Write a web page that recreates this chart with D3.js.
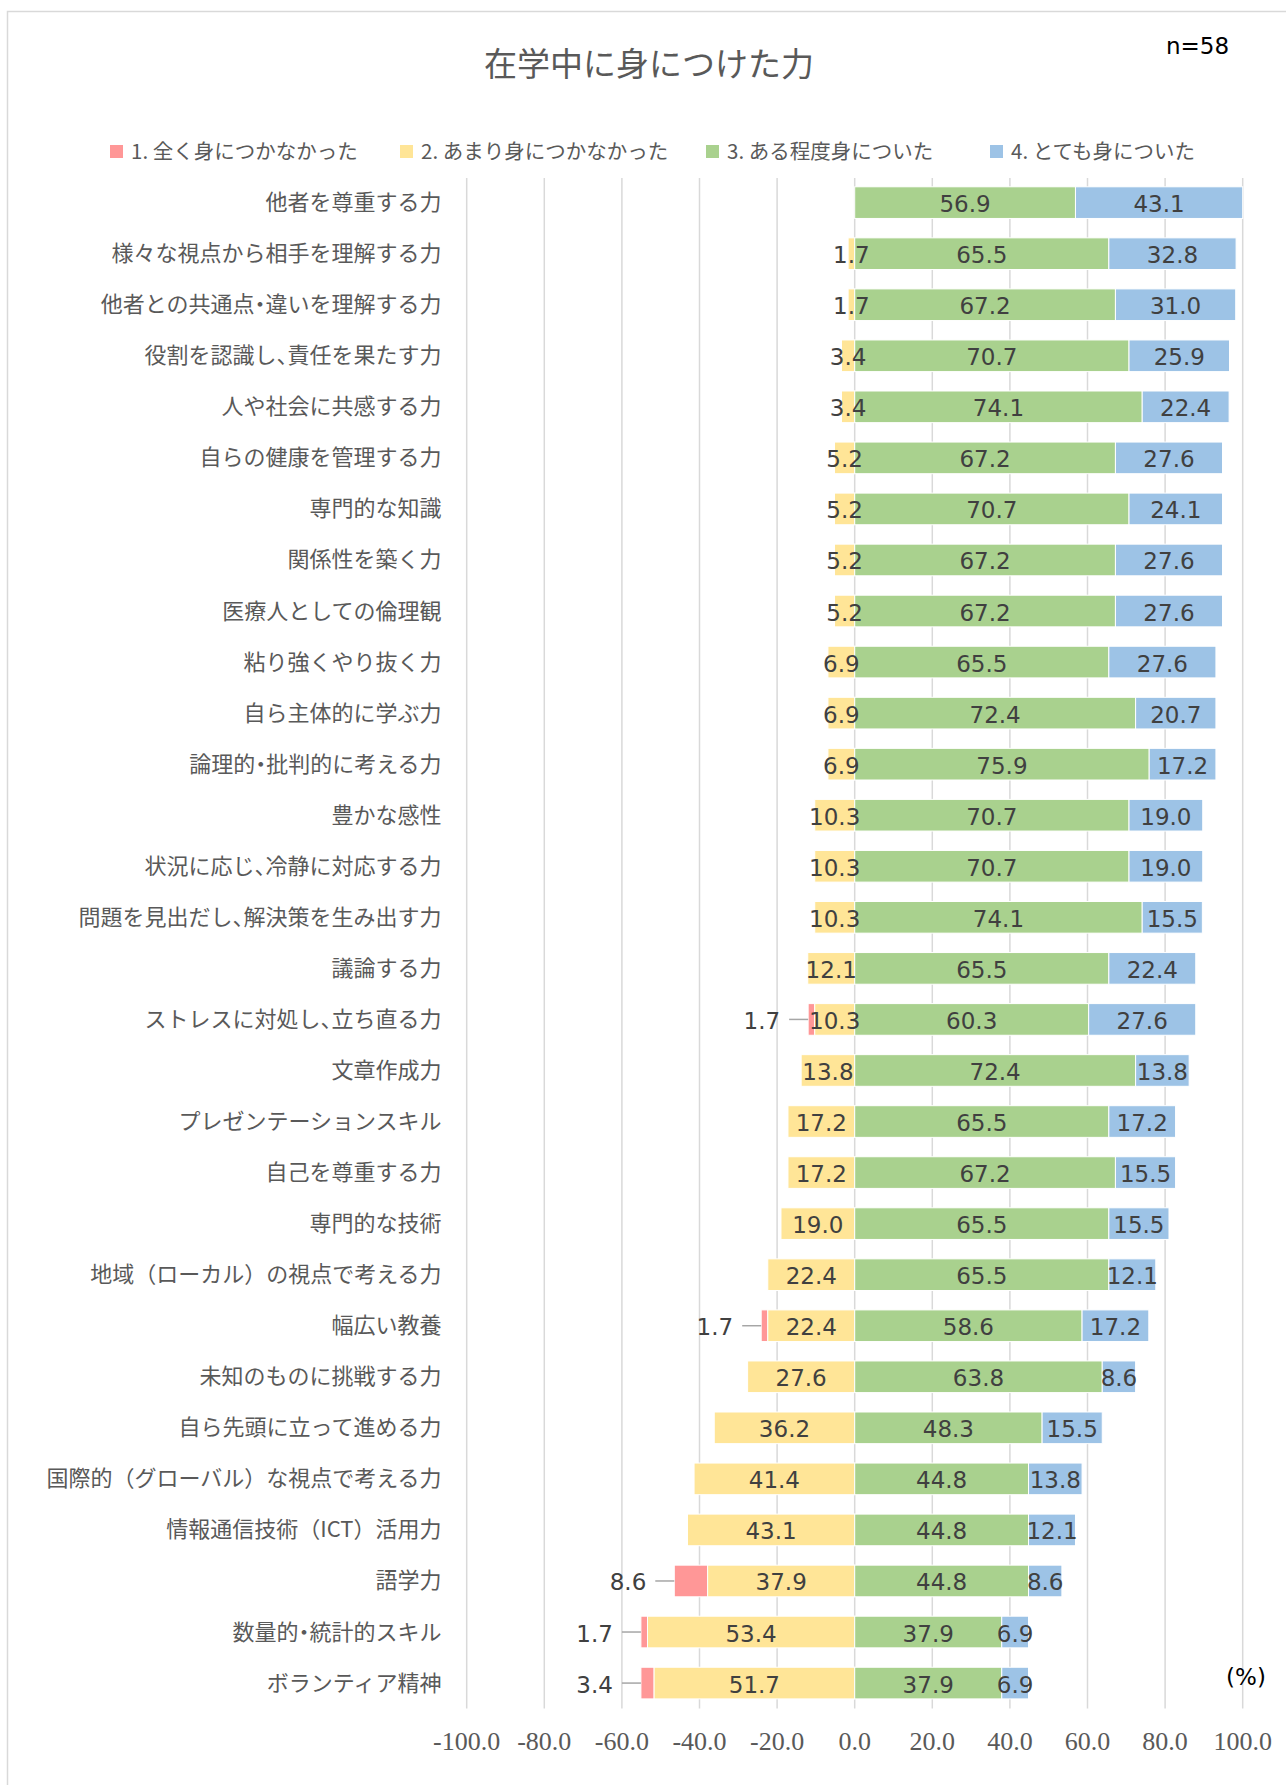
<!DOCTYPE html>
<html>
<head>
<meta charset="utf-8">
<script src="https://cdn.jsdelivr.net/npm/d3@7"></script>
<style>
  body { margin: 0; background: #fff; }
  svg { display: block; }
  .half { font-feature-settings: "halt"; }
</style>
</head>
<body>
<svg id="chart" width="1286" height="1785"></svg>
<script>
// Chart data (percent, n=58)
const categories = [
  '他者を尊重する力', '様々な視点から相手を理解する力', '他者との共通点・違いを理解する力',
  '役割を認識し、責任を果たす力', '人や社会に共感する力', '自らの健康を管理する力',
  '専門的な知識', '関係性を築く力', '医療人としての倫理観', '粘り強くやり抜く力',
  '自ら主体的に学ぶ力', '論理的・批判的に考える力', '豊かな感性', '状況に応じ、冷静に対応する力',
  '問題を見出だし、解決策を生み出す力', '議論する力', 'ストレスに対処し、立ち直る力', '文章作成力',
  'プレゼンテーションスキル', '自己を尊重する力', '専門的な技術', '地域（ローカル）の視点で考える力',
  '幅広い教養', '未知のものに挑戦する力', '自ら先頭に立って進める力',
  '国際的（グローバル）な視点で考える力', '情報通信技術（ICT）活用力', '語学力',
  '数量的・統計的スキル', 'ボランティア精神'
];
const notAtAll = [0, 0, 0, 0, 0, 0, 0, 0, 0, 0, 0, 0, 0, 0, 0, 0, 1.7, 0, 0, 0, 0, 0, 1.7, 0, 0, 0, 0, 8.6, 1.7, 3.4];
const notMuch = [0, 1.7, 1.7, 3.4, 3.4, 5.2, 5.2, 5.2, 5.2, 6.9, 6.9, 6.9, 10.3, 10.3, 10.3, 12.1, 10.3, 13.8, 17.2, 17.2, 19.0, 22.4, 22.4, 27.6, 36.2, 41.4, 43.1, 37.9, 53.4, 51.7];
const somewhat = [56.9, 65.5, 67.2, 70.7, 74.1, 67.2, 70.7, 67.2, 67.2, 65.5, 72.4, 75.9, 70.7, 70.7, 74.1, 65.5, 60.3, 72.4, 65.5, 67.2, 65.5, 65.5, 58.6, 63.8, 48.3, 44.8, 44.8, 44.8, 37.9, 37.9];
const veryMuch = [43.1, 32.8, 31.0, 25.9, 22.4, 27.6, 24.1, 27.6, 27.6, 27.6, 20.7, 17.2, 19.0, 19.0, 15.5, 22.4, 27.6, 13.8, 17.2, 15.5, 15.5, 12.1, 17.2, 8.6, 15.5, 13.8, 12.1, 8.6, 6.9, 6.9];
const seriesNames = ['1. 全く身につかなかった', '2. あまり身につかなかった', '3. ある程度身についた', '4. とても身についた'];
const xTicks = [-100, -80, -60, -40, -20, 0, 20, 40, 60, 80, 100];

const colours = ['#FF9797', '#FFE597', '#A9D18E', '#9DC3E6'];
const cjk = '"Noto Sans CJK JP", "Noto Sans", sans-serif';
const labelFont = '"DejaVu Sans", Verdana, sans-serif';

const svg = d3.select('#chart');

// Chart frame (only top and left edges fall inside the picture)
svg.append('rect')
  .attr('x', 7.5).attr('y', 11.5)
  .attr('width', 1400).attr('height', 1900)
  .attr('fill', 'none').attr('stroke', '#D9D9D9').attr('stroke-width', 1.5);

// Title and sample size
svg.append('text')
  .attr('x', 649).attr('y', 62)
  .attr('text-anchor', 'middle').attr('dominant-baseline', 'central')
  .attr('font-family', cjk).attr('font-size', 33).attr('fill', '#595959')
  .text('在学中に身につけた力');

svg.append('text')
  .attr('x', 1166).attr('y', 54)
  .attr('font-family', labelFont).attr('font-size', 23).attr('fill', '#000')
  .text('n=58');

// Scales
const x = d3.scaleLinear().domain([-100, 100]).range([466.7, 1242.7]);
const y = d3.scaleBand().domain(categories).range([177.1, 1708.6]).paddingInner(0.38).paddingOuter(0.19);

// Segments: negatives stack left from zero, positives right
const rows = categories.map((c, i) => {
  const a = notAtAll[i], b = notMuch[i], s = somewhat[i], v = veryMuch[i];
  return [
    { cat: c, k: 0, x0: -(a + b), x1: -b, v: a },
    { cat: c, k: 1, x0: -b, x1: 0, v: b },
    { cat: c, k: 2, x0: 0, x1: s, v: s },
    { cat: c, k: 3, x0: s, x1: s + v, v: v }
  ];
});
const segs = rows.flat().filter(d => d.v > 0);

// Gridlines
const plotTop = y.range()[0] + 1, plotBottom = y.range()[1];
svg.append('g').selectAll('line').data(xTicks).join('line')
  .attr('x1', d => x(d)).attr('x2', d => x(d))
  .attr('y1', plotTop).attr('y2', plotBottom)
  .attr('stroke', '#D9D9D9').attr('stroke-width', 1.5);

// Tick labels (plain hyphen minus, as in the original)
const tickFmt = d3.formatLocale({ decimal: '.', thousands: ',', grouping: [3], currency: ['', ''], minus: '-' }).format('.1f');
svg.append('g').selectAll('text').data(xTicks).join('text')
  .attr('x', d => x(d)).attr('y', 1750)
  .attr('text-anchor', 'middle')
  .attr('font-family', '"Liberation Serif", "Times New Roman", serif')
  .attr('font-size', 26).attr('fill', '#595959')
  .text(d => tickFmt(d));

// Bars
svg.append('g').selectAll('rect').data(segs).join('rect')
  .attr('x', d => x(d.x0))
  .attr('width', d => x(d.x1) - x(d.x0))
  .attr('y', d => y(d.cat))
  .attr('height', y.bandwidth())
  .attr('fill', d => colours[d.k])
  .attr('stroke', '#fff').attr('stroke-width', 1);

// Category labels; punctuation set half width like the original font
const catLabels = svg.append('g').selectAll('text').data(categories).join('text')
  .attr('x', 441.5).attr('y', d => y(d) + y.bandwidth() / 2 - 2.5)
  .attr('text-anchor', 'end').attr('dominant-baseline', 'central')
  .attr('font-family', cjk).attr('font-size', 22).attr('fill', '#595959');
catLabels.selectAll('tspan')
  .data(d => d.split(/([・、])/).filter(p => p.length))
  .join('tspan')
    .attr('class', p => /^[・、]$/.test(p) ? 'half' : null)
    .text(p => p);

// Data labels: inside segments, except series 1 which sits outside with a leader line
const inner = segs.filter(d => d.k > 0);
const outer = segs.filter(d => d.k === 0);
const fmt = d3.format('.1f');
const mid = d => y(d.cat) + y.bandwidth() / 2;

svg.append('g').selectAll('text').data(inner).join('text')
  .attr('x', d => x((d.x0 + d.x1) / 2)).attr('y', d => mid(d) + 9.5)
  .attr('text-anchor', 'middle')
  .attr('font-family', labelFont).attr('font-size', 23).attr('fill', '#404040')
  .text(d => fmt(d.v));

const leaders = svg.append('g');
leaders.selectAll('line').data(outer).join('line')
  .attr('x1', d => x(d.x0) - 19).attr('x2', d => x(d.x0))
  .attr('y1', d => mid(d)).attr('y2', d => mid(d))
  .attr('stroke', '#A6A6A6').attr('stroke-width', 1.5);
leaders.selectAll('text').data(outer).join('text')
  .attr('x', d => x(d.x0) - 28).attr('y', d => mid(d) + 9.5)
  .attr('text-anchor', 'end')
  .attr('font-family', labelFont).attr('font-size', 23).attr('fill', '#404040')
  .text(d => fmt(d.v));

// Unit
svg.append('text')
  .attr('x', 1246).attr('y', 1685)
  .attr('text-anchor', 'middle')
  .attr('font-family', labelFont).attr('font-size', 23).attr('fill', '#000')
  .text('(%)');

// Legend
const legendX = [110, 400, 706, 990];
const legend = svg.append('g').selectAll('g').data(seriesNames).join('g')
  .attr('transform', (d, i) => `translate(${legendX[i]},151)`);
legend.append('rect')
  .attr('x', 0).attr('y', -6).attr('width', 13).attr('height', 13)
  .attr('fill', (d, i) => colours[i]);
legend.append('text')
  .attr('x', 21).attr('y', -1)
  .attr('dominant-baseline', 'central')
  .attr('font-family', cjk).attr('font-size', 20.5).attr('fill', '#595959')
  .text(d => d);
</script>
</body>
</html>
